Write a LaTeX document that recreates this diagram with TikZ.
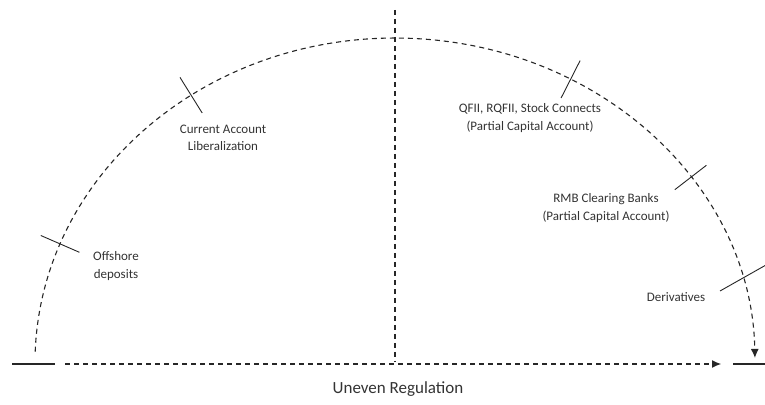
\documentclass[tikz,border=0pt]{standalone}
\usepackage{fontspec}
\setmainfont{Carlito}
\usetikzlibrary{arrows.meta}

\begin{document}
\begin{tikzpicture}[x=1pt,y=1pt]
\useasboundingbox (0,0) rectangle (765,404);
\coordinate (Regulation axisL0) at (12,40);
\coordinate (Regulation axisL1) at (55,40);
\coordinate (Regulation axisD0) at (65,40);
\coordinate (Regulation axisD1) at (721,40);
\coordinate (Regulation axisR0) at (733,40);
\coordinate (Regulation axisR1) at (765,40);
\coordinate (Regulation axisV0) at (395,394);
\coordinate (Regulation axisV1) at (395,42);
\coordinate (Liberalization arcS) at (35.2,52.3);
\draw[draw=black!85, line width=1.1pt] (Regulation axisL0) -- (Regulation axisL1);
\draw[draw=black!85, line width=1.1pt] (Regulation axisR0) -- (Regulation axisR1);
\draw[draw=black!85, line width=1.1pt, dash pattern=on 5pt off 4pt, -{Latex[length=9pt,width=8pt]}] (Regulation axisD0) -- (Regulation axisD1);
\draw[draw=black!85, line width=1.1pt, dash pattern=on 5pt off 4pt] (Regulation axisV0) -- (Regulation axisV1);
\draw[draw=black!85, line width=1.1pt, dash pattern=on 5pt off 4pt, -{Latex[length=9pt,width=8pt]}] (Liberalization arcS) arc[start angle=178, end angle=0.9, x radius=360, y radius=325];
\draw[draw=black!85, line width=0.9pt] (40.8,168.5) -- (79.4,151.7);
\draw[draw=black!85, line width=0.9pt] (180.0,326.6) -- (202.2,291.0);
\draw[draw=black!85, line width=0.9pt] (580.1,343.4) -- (561.1,306.0);
\draw[draw=black!85, line width=0.9pt] (706.4,238.7) -- (674.8,214.3);
\draw[draw=black!85, line width=0.9pt] (720,113) -- (766,139);
\node[text=black!80, align=center, font=\fontsize{13}{17.5}\selectfont] (Liberalization stepN0) at (116,138) {Offshore\\deposits};
\node[text=black!80, align=center, font=\fontsize{13}{17.5}\selectfont] (Liberalization stepN1) at (223,266) {Current Account\\Liberalization};
\node[text=black!80, align=center, font=\fontsize{13}{17.5}\selectfont] (Liberalization stepN2) at (530,286) {QFII, RQFII, Stock Connects\\(Partial Capital Account)};
\node[text=black!80, align=center, font=\fontsize{13}{17.5}\selectfont] (Liberalization stepN3) at (606,196) {RMB Clearing Banks\\(Partial Capital Account)};
\node[text=black!80, align=center, font=\fontsize{13}{17.5}\selectfont] (Liberalization stepN4) at (676,107) {Derivatives};
\node[text=black!80, align=center, font=\fontsize{17}{20}\selectfont] (Regulation axisN) at (398,15) {Uneven Regulation};
\end{tikzpicture}
\end{document}
